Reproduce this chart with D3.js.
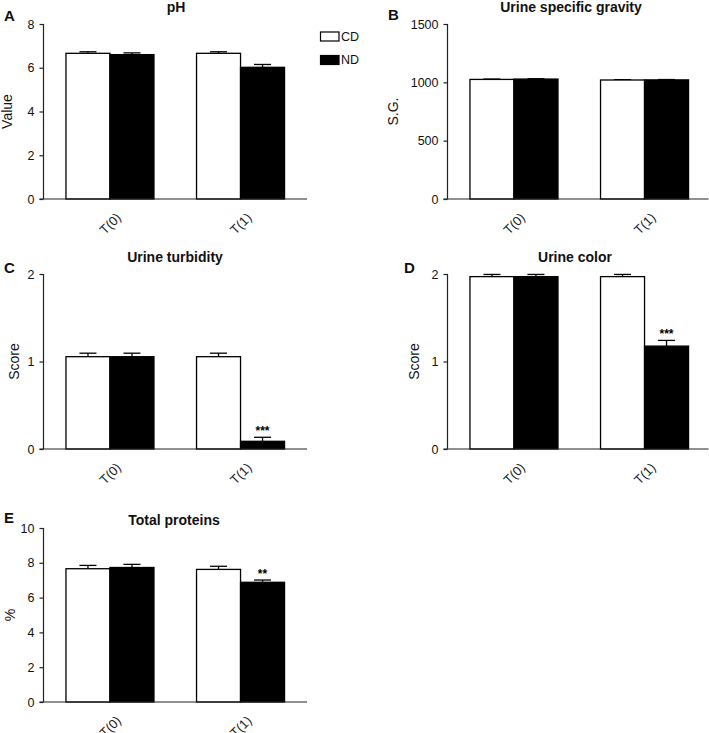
<!DOCTYPE html>
<html><head><meta charset="utf-8">
<script src="https://cdn.jsdelivr.net/npm/d3@7"></script>
<style>body{margin:0;background:#fff}svg{display:block;font-family:"Liberation Sans",Arial,sans-serif}</style>
</head><body>
<svg id="c" width="709" height="733"></svg>
<script>
const categories = ["T(0)", "T(1)"];
const groups = ["CD", "ND"];

const phCD = [6.66, 6.66], phCDerr = [0.07, 0.07];
const phND = [6.60, 6.02], phNDerr = [0.08, 0.13];

const sgCD = [1025, 1020], sgCDerr = [3, 3];
const sgND = [1028, 1021], sgNDerr = [3, 3];

const turbCD = [1.055, 1.055], turbCDerr = [0.04, 0.04];
const turbND = [1.055, 0.088], turbNDerr = [0.04, 0.046];

const colorCD = [1.97, 1.97], colorCDerr = [0.025, 0.025];
const colorND = [1.97, 1.176], colorNDerr = [0.025, 0.065];

const protCD = [7.66, 7.62], protCDerr = [0.19, 0.18];
const protND = [7.73, 6.88], protNDerr = [0.18, 0.13];

const phTicks = [0, 2, 4, 6, 8];
const sgTicks = [0, 500, 1000, 1500];
const scoreTicks = [0, 1, 2];
const protTicks = [0, 2, 4, 6, 8, 10];

const sigTurb = ["", "***"];
const sigColor = ["", "***"];
const sigProt = ["", "**"];

const panels = [
  {letter:"A", title:"pH", ylabel:"Value", cd:phCD, cde:phCDerr, nd:phND, nde:phNDerr, ticks:phTicks, sig:null,
   ax:43.5, top:24, base:199, lx:4, ly:21, labx:7, tx:176, ty:12},
  {letter:"B", title:"Urine specific gravity", ylabel:"S.G.", cd:sgCD, cde:sgCDerr, nd:sgND, nde:sgNDerr, ticks:sgTicks, sig:null,
   ax:447.5, top:24, base:199, lx:388, ly:20, labx:393, tx:571, ty:12},
  {letter:"C", title:"Urine turbidity", ylabel:"Score", cd:turbCD, cde:turbCDerr, nd:turbND, nde:turbNDerr, ticks:scoreTicks, sig:sigTurb,
   ax:43.5, top:274, base:449, lx:4, ly:273, labx:14, tx:175, ty:262},
  {letter:"D", title:"Urine color", ylabel:"Score", cd:colorCD, cde:colorCDerr, nd:colorND, nde:colorNDerr, ticks:scoreTicks, sig:sigColor,
   ax:447.5, top:274, base:449, lx:404, ly:273, labx:414, tx:575, ty:262},
  {letter:"E", title:"Total proteins", ylabel:"%", cd:protCD, cde:protCDerr, nd:protND, nde:protNDerr, ticks:protTicks, sig:sigProt,
   ax:43.5, top:528, base:702, lx:4, ly:523, labx:10, tx:174, ty:525}
];

const svg = d3.select("#c");

panels.forEach(p => {
  const g = svg.append("g");
  const y = d3.scaleLinear().domain([p.ticks[0], p.ticks[p.ticks.length-1]]).range([p.base, p.top]);
  const x0 = d3.scaleBand().domain(categories).range([p.ax, p.ax + 263.5]).paddingInner(0.326).paddingOuter(0.172);
  const x1 = d3.scaleBand().domain(groups).range([0, x0.bandwidth()]);
  const xEnd = Math.min(p.ax + 263.5, 708.5);

  categories.forEach((c, i) => {
    const vals = [
      {grp:"CD", v:p.cd[i], e:p.cde[i], fill:"#fff"},
      {grp:"ND", v:p.nd[i], e:p.nde[i], fill:"#000"}
    ];
    vals.forEach(d => {
      const bx = x0(c) + x1(d.grp);
      const bw = x1.bandwidth();
      const cx = bx + bw/2;
      const yt = y(d.v), ye = y(d.v + d.e);
      g.append("line").attr("x1", cx).attr("x2", cx).attr("y1", yt).attr("y2", ye).attr("stroke", "#000").attr("stroke-width", 1.3);
      g.append("line").attr("x1", cx - 8.5).attr("x2", cx + 8.5).attr("y1", ye).attr("y2", ye).attr("stroke", "#000").attr("stroke-width", 1.3);
      g.append("rect").attr("x", bx).attr("y", yt).attr("width", bw).attr("height", p.base - yt)
        .attr("fill", d.fill).attr("stroke", "#000").attr("stroke-width", 1.3);
      if (p.sig && d.grp === "ND" && p.sig[i]) {
        g.append("text").attr("x", cx).attr("y", ye - 2).attr("text-anchor", "middle")
          .attr("font-size", 12).attr("font-weight", "bold").text(p.sig[i]);
      }
    });
    const cxc = x0(c) + x0.bandwidth()/2;
    g.append("text").attr("transform", `translate(${cxc + 5.5},${p.base + 13}) rotate(-45)`)
      .attr("text-anchor", "end").attr("dy", "0.7em").attr("font-size", 13).attr("fill", "#222").text(c);
  });

  const yAxis = d3.axisLeft(y).tickValues(p.ticks).tickSize(4).tickPadding(5).tickFormat(d3.format("d"));
  const ag = g.append("g").attr("transform", `translate(${p.ax},0)`).call(yAxis);
  ag.select(".domain").attr("d", `M0,${p.top}V${p.base}`).attr("stroke", "#222").attr("stroke-width", 1.2);
  ag.selectAll(".tick line").attr("stroke", "#222").attr("stroke-width", 1.2);
  ag.selectAll(".tick text").attr("font-size", 12.5).attr("fill", "#111").attr("font-family", "Liberation Sans, Arial, sans-serif");
  g.append("line").attr("x1", p.ax - 4).attr("x2", xEnd).attr("y1", p.base).attr("y2", p.base).attr("stroke", "#222").attr("stroke-width", 1.2);

  g.append("text").attr("transform", `translate(${p.labx},${(p.top + p.base)/2}) rotate(-90)`)
    .attr("text-anchor", "middle").attr("dy", "0.35em").attr("font-size", 14).attr("fill", "#111").text(p.ylabel);
  g.append("text").attr("x", p.tx).attr("y", p.ty).attr("text-anchor", "middle")
    .attr("font-size", 14).attr("font-weight", "bold").attr("fill", "#111").text(p.title);
  g.append("text").attr("x", p.lx).attr("y", p.ly).attr("font-size", 15).attr("font-weight", "bold").attr("fill", "#111").text(p.letter);
});

const leg = svg.append("g");
groups.forEach((grp, i) => {
  leg.append("rect").attr("x", 320.5).attr("y", 32 + i*23.5).attr("width", 18.5).attr("height", 9)
    .attr("fill", grp === "CD" ? "#fff" : "#000").attr("stroke", "#000").attr("stroke-width", 1.2);
  leg.append("text").attr("x", 341).attr("y", 36.5 + i*23.5).attr("dy", "0.35em").attr("font-size", 12.5).attr("fill", "#111").text(grp);
});
</script>
</body></html>
